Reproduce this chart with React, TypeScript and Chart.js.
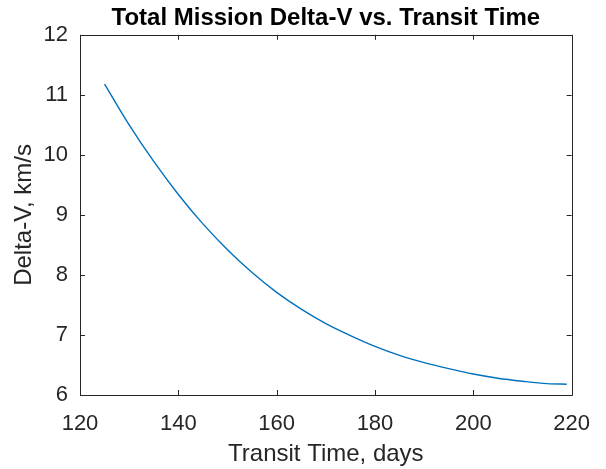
import React, { useEffect, useRef } from "react";
import { Chart, registerables } from "chart.js";

Chart.register(...registerables);

const transitDays = [125, 130, 135, 140, 145, 150, 155, 160, 165, 170, 175, 180, 185, 190, 195, 200, 205, 210, 215, 219];
const deltaV = [11.18, 10.5, 9.89, 9.34, 8.85, 8.42, 8.04, 7.71, 7.43, 7.19, 6.99, 6.81, 6.66, 6.54, 6.44, 6.35, 6.28, 6.23, 6.19, 6.18];

const xMin = 120;
const xMax = 220;
const xStep = 20;
const yMin = 6;
const yMax = 12;
const yStep = 1;

const titleText = "Total Mission Delta-V vs. Transit Time";
const xLabel = "Transit Time, days";
const yLabel = "Delta-V, km/s";

const FONT = "'Liberation Sans', Arial, Helvetica, sans-serif";
const AXIS_COLOR = "#262626";

const boxPlugin = {
  id: "matlabBox",
  afterDraw(chart: any) {
    const { ctx, chartArea } = chart;
    const { left, right, top, bottom } = chartArea;
    const xs = chart.scales.x;
    const ys = chart.scales.y;
    const tl = 5;
    ctx.save();
    ctx.strokeStyle = AXIS_COLOR;
    ctx.lineWidth = 1;
    ctx.beginPath();
    ctx.rect(Math.round(left) + 0.5, Math.round(top) + 0.5, Math.round(right - left), Math.round(bottom - top));
    ctx.stroke();
    ctx.beginPath();
    xs.ticks.forEach((t: any) => {
      const px = Math.round(xs.getPixelForValue(t.value)) + 0.5;
      ctx.moveTo(px, bottom);
      ctx.lineTo(px, bottom - tl);
      ctx.moveTo(px, top);
      ctx.lineTo(px, top + tl);
    });
    ys.ticks.forEach((t: any) => {
      const py = Math.round(ys.getPixelForValue(t.value)) + 0.5;
      ctx.moveTo(left, py);
      ctx.lineTo(left + tl, py);
      ctx.moveTo(right, py);
      ctx.lineTo(right - tl, py);
    });
    ctx.stroke();
    ctx.restore();
  },
};

export default function App() {
  const ref = useRef<HTMLCanvasElement | null>(null);
  useEffect(() => {
    if (!ref.current) return;
    const chart = new Chart(ref.current, {
      type: "line",
      data: {
        datasets: [
          {
            data: transitDays.map((d, i) => ({ x: d, y: deltaV[i] })),
            borderColor: "#0072BD",
            borderWidth: 1.4,
            pointRadius: 0,
            cubicInterpolationMode: "monotone",
            fill: false,
          },
        ],
      },
      options: {
        animation: false,
        responsive: false,
        maintainAspectRatio: false,
        layout: { padding: { left: 0, right: 19, top: 0, bottom: 0 } },
        plugins: {
          legend: { display: false },
          tooltip: { enabled: false },
          title: {
            display: true,
            fullSize: false,
            text: titleText,
            color: "#000000",
            font: { family: FONT, size: 24, weight: "bold", lineHeight: 1.2 },
            padding: { top: 4, bottom: 2 },
          },
        },
        scales: {
          x: {
            type: "linear",
            min: xMin,
            max: xMax,
            afterBuildTicks(scale: any) {
              const arr = [];
              for (let v = xMin; v <= xMax; v += xStep) arr.push({ value: v });
              scale.ticks = arr;
            },
            afterFit(scale: any) {
              scale.height = 74;
            },
            grid: { display: false, drawTicks: false },
            border: { display: false },
            ticks: {
              color: AXIS_COLOR,
              font: { family: FONT, size: 22, lineHeight: 1.2 },
              padding: 16,
              maxRotation: 0,
              autoSkip: false,
            },
            title: {
              display: true,
              text: xLabel,
              color: AXIS_COLOR,
              font: { family: FONT, size: 24, lineHeight: 1.2 },
              padding: { top: -2, bottom: 0 },
            },
          },
          y: {
            type: "linear",
            min: yMin,
            max: yMax,
            afterBuildTicks(scale: any) {
              const arr = [];
              for (let v = yMin; v <= yMax; v += yStep) arr.push({ value: v });
              scale.ticks = arr;
            },
            afterFit(scale: any) {
              scale.width = 80;
            },
            grid: { display: false, drawTicks: false },
            border: { display: false },
            ticks: {
              color: AXIS_COLOR,
              font: { family: FONT, size: 22, lineHeight: 1.2 },
              padding: 12,
              autoSkip: false,
            },
            title: {
              display: true,
              text: yLabel,
              color: AXIS_COLOR,
              font: { family: FONT, size: 24, lineHeight: 1.2 },
              padding: { top: 10, bottom: 0 },
            },
          },
        },
      },
      plugins: [boxPlugin],
    });
    return () => chart.destroy();
  }, []);
  return (
    <div style={{ position: "fixed", left: 0, top: 0, width: 606, height: 469, background: "#ffffff" }}>
      <canvas ref={ref} width={606} height={469} />
    </div>
  );
}
